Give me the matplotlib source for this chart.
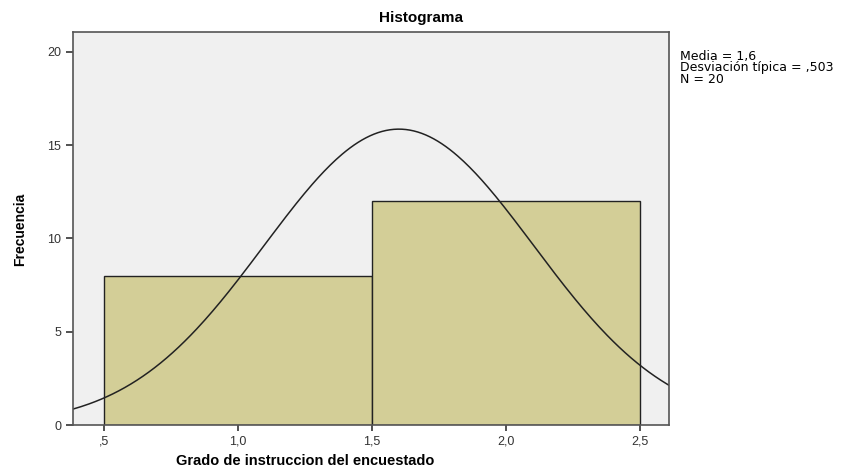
import numpy as np
import matplotlib.pyplot as plt

plt.rcParams['font.family'] = ['Liberation Sans', 'DejaVu Sans']

bin_edges = [0.5, 1.5, 2.5]
counts = [8, 12]
media = 1.6
desv = 0.503
n_total = 20
x_ticks = [0.5, 1.0, 1.5, 2.0, 2.5]
x_tick_labels = [',5', '1,0', '1,5', '2,0', '2,5']
y_ticks = [0, 5, 10, 15, 20]

fig = plt.figure(figsize=(8.49, 4.70), dpi=100)
ax = fig.add_axes([73/849, 1-425/470, (669-73)/849, (425-32)/470])
ax.set_facecolor('#f0f0f0')

lefts = np.array(bin_edges[:-1])
widths = np.diff(bin_edges)
ax.bar(lefts, counts, width=widths, align='edge', color='#d3ce97',
       edgecolor='#222222', linewidth=1.0)

# curva normal segun media / desviacion / N
bw = widths[0]
xx = np.linspace(0.384, 2.608, 300)
yy = n_total * bw / (desv * np.sqrt(2*np.pi)) * np.exp(-0.5*((xx-media)/desv)**2)
ax.plot(xx, yy, color='#222222', linewidth=1.1)

ax.set_xlim(0.384, 2.608)
ax.set_ylim(0, 21.07)
ax.set_xticks(x_ticks)
ax.set_xticklabels(x_tick_labels)
ax.set_yticks(y_ticks)
ax.tick_params(axis='both', direction='out', labelsize=9, colors='#333333',
               length=5, width=1.2)
ax.tick_params(axis='x', length=4)
for s in ax.spines.values():
    s.set_color('#555555')
    s.set_linewidth(1.2)

fig.text(421/849, 1-18/470, 'Histograma', ha='center', va='center',
         fontsize=11, fontweight='bold')
fig.text(305/849, 1-461/470, 'Grado de instruccion del encuestado',
         ha='center', va='center', fontsize=10.5, fontweight='bold')
fig.text(20/849, 1-229/470, 'Frecuencia', ha='center', va='center',
         rotation=90, fontsize=10, fontweight='bold')
fig.text(680/849, 1-68/470,
         'Media = 1,6\nDesviación típica = ,503\nN = 20',
         ha='left', va='center', fontsize=9, linespacing=0.88,
         family='DejaVu Sans')

fig.savefig('out.png', dpi=100)
